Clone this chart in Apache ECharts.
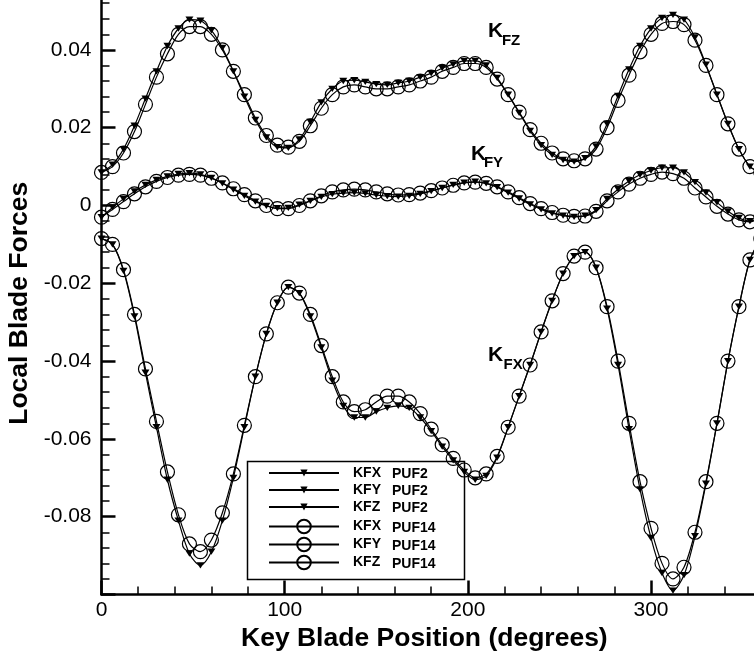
<!DOCTYPE html>
<html>
<head>
<meta charset="utf-8">
<script src="https://cdn.jsdelivr.net/npm/echarts@6/dist/echarts.min.js"></script>
<style>html,body{margin:0;padding:0;background:#fff}#c{width:754px;height:654px}</style>
</head>
<body>
<div id="c"></div>
<script>
const degrees = [0,6,12,18,24,30,36,42,48,54,60,66,72,78,84,90,96,102,108,114,120,126,132,138,144,150,156,162,168,174,180,186,192,198,204,210,216,222,228,234,240,246,252,258,264,270,276,282,288,294,300,306,312,318,324,330,336,342,348,354,360];

const kfxPuf2 = [-0.0085,-0.0100,-0.0168,-0.0285,-0.0430,-0.0570,-0.0705,-0.0810,-0.0895,-0.0925,-0.0890,-0.0810,-0.0700,-0.0570,-0.0440,-0.0330,-0.0250,-0.0210,-0.0225,-0.0285,-0.0365,-0.0450,-0.0515,-0.0545,-0.0545,-0.0530,-0.0520,-0.0515,-0.0520,-0.0545,-0.0580,-0.0620,-0.0655,-0.0685,-0.0705,-0.0695,-0.0648,-0.0570,-0.0490,-0.0410,-0.0325,-0.0245,-0.0175,-0.0130,-0.0120,-0.0160,-0.0265,-0.0410,-0.0575,-0.0730,-0.0855,-0.0945,-0.0990,-0.0950,-0.0850,-0.0715,-0.0560,-0.0400,-0.0260,-0.0140,-0.0085];
const kfyPuf2 = [-0.0030,-0.0005,0.0017,0.0036,0.0053,0.0066,0.0075,0.0081,0.0083,0.0080,0.0071,0.0057,0.0041,0.0025,0.0010,-0.0001,-0.0007,-0.0006,0.0002,0.0012,0.0022,0.0029,0.0032,0.0033,0.0031,0.0027,0.0024,0.0023,0.0025,0.0030,0.0037,0.0045,0.0053,0.0059,0.0061,0.0057,0.0047,0.0033,0.0018,0.0003,-0.0010,-0.0020,-0.0026,-0.0029,-0.0026,-0.0012,0.0017,0.0042,0.0063,0.0079,0.0090,0.0097,0.0097,0.0085,0.0060,0.0033,0.0008,-0.0015,-0.0032,-0.0040,-0.0030];
const kfzPuf2 = [0.0085,0.0105,0.0145,0.0205,0.0275,0.0345,0.0410,0.0455,0.0478,0.0475,0.0450,0.0405,0.0345,0.0280,0.0220,0.0175,0.0150,0.0148,0.0170,0.0215,0.0265,0.0300,0.0320,0.0322,0.0318,0.0312,0.0310,0.0315,0.0320,0.0330,0.0340,0.0353,0.0363,0.0372,0.0372,0.0360,0.0328,0.0285,0.0238,0.0192,0.0155,0.0130,0.0117,0.0113,0.0122,0.0152,0.0210,0.0282,0.0350,0.0410,0.0455,0.0482,0.0490,0.0478,0.0432,0.0362,0.0285,0.0210,0.0145,0.0100,0.0085];

const kfxPuf14 = [-0.0085,-0.0100,-0.0165,-0.0280,-0.0420,-0.0555,-0.0685,-0.0795,-0.0870,-0.0890,-0.0860,-0.0790,-0.0690,-0.0565,-0.0440,-0.0330,-0.0250,-0.0210,-0.0225,-0.0280,-0.0360,-0.0440,-0.0505,-0.0530,-0.0525,-0.0505,-0.0490,-0.0490,-0.0505,-0.0535,-0.0575,-0.0615,-0.0650,-0.0680,-0.0700,-0.0690,-0.0645,-0.0570,-0.0490,-0.0410,-0.0325,-0.0245,-0.0175,-0.0130,-0.0120,-0.0160,-0.0260,-0.0400,-0.0560,-0.0710,-0.0830,-0.0920,-0.0960,-0.0930,-0.0840,-0.0710,-0.0560,-0.0400,-0.0260,-0.0140,-0.0085];
const kfyPuf14 = [-0.0030,-0.0010,0.0010,0.0030,0.0048,0.0062,0.0072,0.0078,0.0080,0.0078,0.0070,0.0058,0.0043,0.0028,0.0012,0.0000,-0.0008,-0.0008,0.0000,0.0012,0.0025,0.0035,0.0040,0.0042,0.0040,0.0035,0.0030,0.0027,0.0028,0.0032,0.0038,0.0045,0.0052,0.0058,0.0060,0.0057,0.0048,0.0035,0.0020,0.0005,-0.0008,-0.0018,-0.0025,-0.0028,-0.0027,-0.0015,0.0012,0.0035,0.0055,0.0070,0.0080,0.0086,0.0082,0.0070,0.0045,0.0022,-0.0002,-0.0022,-0.0037,-0.0042,-0.0030];
const kfzPuf14 = [0.0085,0.0100,0.0135,0.0190,0.0260,0.0330,0.0390,0.0440,0.0460,0.0460,0.0440,0.0400,0.0345,0.0285,0.0225,0.0180,0.0155,0.0150,0.0165,0.0205,0.0250,0.0285,0.0305,0.0310,0.0305,0.0300,0.0300,0.0305,0.0310,0.0320,0.0330,0.0345,0.0355,0.0365,0.0365,0.0355,0.0325,0.0285,0.0240,0.0195,0.0160,0.0135,0.0120,0.0115,0.0120,0.0145,0.0200,0.0270,0.0335,0.0395,0.0440,0.0468,0.0473,0.0465,0.0425,0.0360,0.0285,0.0210,0.0145,0.0100,0.0085];

const xTicks = [0, 100, 200, 300];
const yTicks = [-0.08, -0.06, -0.04, -0.02, 0, 0.02, 0.04];

const curveLabels = [
  { name: 'K', coord: [215.1, 0.04475], size: 21 },
  { name: 'FZ', coord: [223.6, 0.04244], size: 15 },
  { name: 'K', coord: [205.8, 0.01314], size: 21 },
  { name: 'FY', coord: [214.0, 0.01095], size: 15 },
  { name: 'K', coord: [215.1, -0.0385], size: 21 },
  { name: 'FX', coord: [224.7, -0.0410], size: 15 }
];

const FONT = 'Liberation Sans';
const triPath = 'path://M0,0L10,0L5,9Z';

function pairs(vals) { return degrees.map((d, i) => [d, vals[i]]); }

function puf2(name, vals) {
  return {
    name: name, type: 'line', data: pairs(vals),
    symbol: triPath, symbolSize: [8, 7], symbolKeepAspect: true,
    showSymbol: true, smooth: 0.3,
    lineStyle: { color: '#000', width: 1.2 },
    itemStyle: { color: '#000', borderWidth: 0 },
    z: 3
  };
}
function puf14(name, vals) {
  return {
    name: name, type: 'line', data: pairs(vals),
    symbol: 'circle', symbolSize: 14, showSymbol: true, smooth: 0.3,
    lineStyle: { color: '#000', width: 1.2 },
    itemStyle: { color: 'rgba(0,0,0,0)', borderColor: '#000', borderWidth: 1.2 },
    z: 2
  };
}

const series = [
  puf2('KFX PUF2', kfxPuf2),
  puf2('KFY PUF2', kfyPuf2),
  puf2('KFZ PUF2', kfzPuf2),
  puf14('KFX PUF14', kfxPuf14),
  puf14('KFY PUF14', kfyPuf14),
  puf14('KFZ PUF14', kfzPuf14)
];
series[5].markPoint = {
  symbol: 'circle', symbolSize: 1, silent: true,
  itemStyle: { color: 'rgba(0,0,0,0)' },
  data: curveLabels.map(l => ({
    name: l.name, coord: l.coord,
    label: { show: true, position: 'inside', formatter: '{b}', color: '#000',
             fontFamily: FONT, fontWeight: 'bold', fontSize: l.size }
  }))
};

const legendText = {
  fontFamily: FONT, color: '#000', padding: [0, 0, 0, 9],
  rich: {
    a: { fontFamily: FONT, fontWeight: 'bold', fontSize: 14, width: 39, color: '#000', lineHeight: 9 },
    b: { fontFamily: FONT, fontWeight: 'bold', fontSize: 14, color: '#000', lineHeight: 9, padding: [3, 0, 0, 0] }
  }
};
function fmt(name) { const p = name.split(' '); return '{a|' + p[0] + '}{b|' + p[1] + '}'; }

const chart = echarts.init(document.getElementById('c'), null, { renderer: 'canvas' });
chart.setOption({
  animation: false,
  backgroundColor: '#fff',
  grid: { left: 101.5, top: -27.9, width: 732.7, height: 622.4, containLabel: false, outerBoundsMode: 'none' },
  xAxis: {
    type: 'value', min: 0, max: 400, interval: 100,
    name: 'Key Blade Position (degrees)', nameLocation: 'middle', nameGap: 20,
    nameTextStyle: { fontFamily: FONT, fontWeight: 'bold', fontSize: 26.5, color: '#000', padding: [0, 87, 0, 0] },
    axisLine: { show: true, onZero: false, lineStyle: { color: '#000', width: 2.5 } },
    axisTick: { show: true, inside: true, length: 14, lineStyle: { color: '#000', width: 2.5 } },
    minorTick: { show: true, splitNumber: 5, length: 8, lineStyle: { color: '#000', width: 1.5 } },
    axisLabel: { fontFamily: FONT, fontSize: 21, color: '#000', margin: 5,
      formatter: v => xTicks.indexOf(v) >= 0 ? String(v) : '' },
    splitLine: { show: false }
  },
  yAxis: {
    type: 'value', min: -0.1, max: 0.06, interval: 0.02,
    name: 'Local Blade Forces', nameLocation: 'middle', nameGap: 57,
    nameTextStyle: { fontFamily: FONT, fontWeight: 'bold', fontSize: 26.5, color: '#000', padding: [0, 40, 0, 0] },
    axisLine: { show: true, onZero: false, lineStyle: { color: '#000', width: 2.5 } },
    axisTick: { show: true, inside: true, length: 14, lineStyle: { color: '#000', width: 2.5 } },
    minorTick: { show: true, splitNumber: 5, length: 8, lineStyle: { color: '#000', width: 1.5 } },
    axisLabel: { fontFamily: FONT, fontSize: 21, color: '#000', margin: 10,
      formatter: v => { const r = +v.toFixed(2); return yTicks.some(t => Math.abs(t - r) < 1e-9) ? String(r) : ''; } },
    splitLine: { show: false }
  },
  legend: [
    { data: ['KFX PUF2', 'KFY PUF2', 'KFZ PUF2'], orient: 'vertical', left: 268, top: 464.5,
      padding: 0, itemWidth: 70, itemHeight: 9, itemGap: 0, selectedMode: false,
      formatter: fmt, textStyle: legendText },
    { data: ['KFX PUF14', 'KFY PUF14', 'KFZ PUF14'], orient: 'vertical', left: 268, top: 518,
      padding: 0, itemWidth: 70, itemHeight: 17, itemGap: 1, selectedMode: false,
      formatter: fmt, textStyle: legendText }
  ],
  graphic: [
    { type: 'rect', left: 245, top: 459, shape: { width: 217, height: 118 },
      style: { fill: 'none', stroke: '#000', lineWidth: 1.5 }, z: 10 }
  ],
  series: series
});
</script>
</body>
</html>
